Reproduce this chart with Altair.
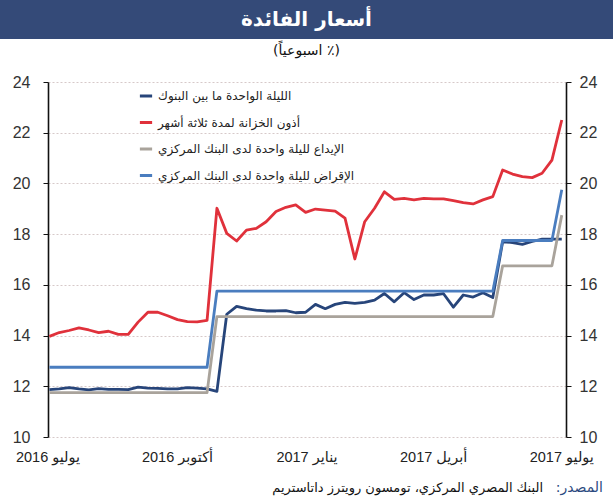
import altair as alt
import pandas as pd

# ---------------- data ----------------
series_names = [
    "الليلة الواحدة ما بين البنوك",
    "أذون الخزانة لمدة ثلاثة أشهر",
    "الإيداع لليلة واحدة لدى البنك المركزي",
    "الإقراض لليلة واحدة لدى البنك المركزي",
]
series_colors = ["#27457a", "#e0313b", "#a9a39b", "#4a7dbf"]

first_week = "2016-07-02"
n_weeks = 53

interbank = [11.87, 11.90, 11.95, 11.90, 11.86, 11.91, 11.88, 11.88, 11.87, 11.97,
             11.93, 11.92, 11.90, 11.90, 11.95, 11.93, 11.90, 11.80, 14.84, 15.15,
             15.06, 15.00, 14.97, 14.97, 14.98, 14.90, 14.92, 15.23, 15.06, 15.23,
             15.31, 15.27, 15.31, 15.40, 15.66, 15.33, 15.69, 15.42, 15.60, 15.60,
             15.65, 15.12, 15.60, 15.52, 15.69, 15.50, 17.70, 17.67, 17.60, 17.71,
             17.80, 17.80, 17.80]
tbill = [13.97, 14.12, 14.20, 14.30, 14.22, 14.12, 14.17, 14.05, 14.05, 14.53,
         14.92, 14.92, 14.78, 14.63, 14.55, 14.54, 14.60, 19.02, 18.03, 17.73,
         18.16, 18.23, 18.49, 18.89, 19.06, 19.15, 18.86, 18.99, 18.95, 18.91,
         18.63, 17.02, 18.49, 19.02, 19.67, 19.37, 19.41, 19.35, 19.41, 19.39,
         19.39, 19.32, 19.24, 19.19, 19.35, 19.48, 20.53, 20.37, 20.27, 20.23,
         20.40, 20.92, 22.50]
deposit = [11.75, 11.75, 11.75, 11.75, 11.75, 11.75, 11.75, 11.75, 11.75, 11.75,
           11.75, 11.75, 11.75, 11.75, 11.75, 11.75, 11.75, 14.75, 14.75, 14.75,
           14.75, 14.75, 14.75, 14.75, 14.75, 14.75, 14.75, 14.75, 14.75, 14.75,
           14.75, 14.75, 14.75, 14.75, 14.75, 14.75, 14.75, 14.75, 14.75, 14.75,
           14.75, 14.75, 14.75, 14.75, 14.75, 14.75, 16.75, 16.75, 16.75, 16.75,
           16.75, 16.75, 18.75]
lending = [12.75, 12.75, 12.75, 12.75, 12.75, 12.75, 12.75, 12.75, 12.75, 12.75,
           12.75, 12.75, 12.75, 12.75, 12.75, 12.75, 12.75, 15.75, 15.75, 15.75,
           15.75, 15.75, 15.75, 15.75, 15.75, 15.75, 15.75, 15.75, 15.75, 15.75,
           15.75, 15.75, 15.75, 15.75, 15.75, 15.75, 15.75, 15.75, 15.75, 15.75,
           15.75, 15.75, 15.75, 15.75, 15.75, 15.75, 17.75, 17.75, 17.75, 17.75,
           17.75, 17.75, 19.75]

x_label_dates = ["2016-07-01", "2016-10-01", "2017-01-01", "2017-04-01", "2017-07-01"]
x_labels = ["يوليو 2016", "أكتوبر 2016", "يناير 2017", "أبريل 2017", "يوليو 2017"]
x_domain_dates = ["2016-07-01", "2017-07-04"]
y_ticks = [10, 12, 14, 16, 18, 20, 22, 24]

title_text = "أسعار الفائدة"
subtitle_text = "(اسبوعياً ٪)"
source_label = "المصدر:\u200f"
source_text = "البنك المصري المركزي، تومسون رويترز داتاستريم"


def ms(d):
    return int(pd.Timestamp(d, tz="UTC").value // 10**6)


weeks = pd.date_range(first_week, periods=n_weeks, freq="7D", tz="UTC")
week_ms = [int(t.value // 10**6) for t in weeks]
tick_ms = [int(t.value // 10**6) for t in
           pd.date_range(x_domain_dates[0], periods=n_weeks, freq="7D", tz="UTC")]

rows = []
for name, vals in zip(series_names, [interbank, tbill, deposit, lending]):
    for t, v in zip(week_ms, vals):
        rows.append({"t": t, "value": v, "series": name})
df = pd.DataFrame(rows)

W, H = 518, 355
PAD_L, PAD_T = 48, 82
AR_FONT = "DejaVu Sans"
NUM_FONT = "Liberation Sans, DejaVu Sans"

xscale = alt.Scale(type="utc", domain=[ms(d) for d in x_domain_dates])
yscale = alt.Scale(domain=[10, 24], nice=False, zero=False)

lines = alt.Chart(df).mark_line(strokeWidth=2.8, strokeJoin="round").encode(
    x=alt.X("t:T", scale=xscale, title=None,
            axis=alt.Axis(values=tick_ms, labels=False, ticks=True, tickSize=6,
                          tickColor="#222", tickWidth=1, domainColor="#111",
                          domainWidth=1.6, grid=False)),
    y=alt.Y("value:Q", scale=yscale, title=None,
            axis=alt.Axis(orient="left", values=y_ticks, grid=True, gridDash=[2, 2],
                          gridColor="#d6c9c9", gridWidth=1, tickSize=5, tickColor="#111",
                          domainColor="#111", domainWidth=1.6, labelFont=NUM_FONT,
                          labelFontSize=16, labelColor="#333", labelPadding=13)),
    color=alt.Color("series:N",
                    scale=alt.Scale(domain=series_names, range=series_colors),
                    legend=alt.Legend(title=None, orient="none", legendX=90, legendY=6,
                                      symbolType="stroke", symbolStrokeWidth=3,
                                      symbolSize=150, labelFont=AR_FONT,
                                      labelFontSize=12, labelColor="#222",
                                      rowPadding=12.5, labelLimit=0, labelOffset=4)),
)

right_axis = alt.Chart(df).mark_point(opacity=0).encode(
    y=alt.Y("value:Q", scale=yscale, title=None,
            axis=alt.Axis(orient="right", values=y_ticks, grid=False, tickSize=5,
                          tickColor="#111", domainColor="#111", domainWidth=1.6,
                          labelFont=NUM_FONT, labelFontSize=16, labelColor="#333",
                          labelPadding=8)),
)

xlab_df = pd.DataFrame({"t": [ms(d) for d in x_label_dates], "label": x_labels})
xlabels = alt.Chart(xlab_df).mark_text(font=NUM_FONT, fontSize=14.5, color="#222",
                                       baseline="top").encode(
    x=alt.X("t:T", scale=xscale, axis=None),
    y=alt.value(H + 14),
    text="label:N",
)

banner = alt.Chart(pd.DataFrame({"k": [0]})).mark_rect(color="#344a78").encode(
    x=alt.value(-PAD_L), x2=alt.value(613 - PAD_L),
    y=alt.value(-PAD_T), y2=alt.value(-PAD_T + 39),
)
title = alt.Chart(pd.DataFrame({"txt": [title_text]})).mark_text(
    font=AR_FONT, fontSize=20, fontWeight="bold", color="white", baseline="middle"
).encode(x=alt.value(306.5 - PAD_L), y=alt.value(20 - PAD_T), text="txt:N")
subtitle = alt.Chart(pd.DataFrame({"txt": [subtitle_text]})).mark_text(
    font=AR_FONT, fontSize=14, color="#111", baseline="middle"
).encode(x=alt.value(306.5 - PAD_L), y=alt.value(51 - PAD_T), text="txt:N")
src_lab = alt.Chart(pd.DataFrame({"txt": [source_label]})).mark_text(
    font=AR_FONT, fontSize=14, color="#2c4a80", baseline="middle", align="right"
).encode(x=alt.value(603 - PAD_L), y=alt.value(488 - PAD_T), text="txt:N")
src_txt = alt.Chart(pd.DataFrame({"txt": [source_text]})).mark_text(
    font=AR_FONT, fontSize=13, color="#111", baseline="middle", align="right"
).encode(x=alt.value(543 - PAD_L), y=alt.value(488 - PAD_T), text="txt:N")

chart = alt.layer(
    banner, title, subtitle, lines, right_axis, xlabels, src_lab, src_txt
).resolve_axis(y="independent").properties(
    width=W, height=H,
    autosize=alt.AutoSizeParams(type="none"),
    padding={"left": PAD_L, "top": PAD_T, "right": 613 - PAD_L - W, "bottom": 500 - PAD_T - H},
    background="white",
).configure_view(stroke="transparent")

chart.save("out.html", embed_options={"renderer": "svg", "actions": False})
